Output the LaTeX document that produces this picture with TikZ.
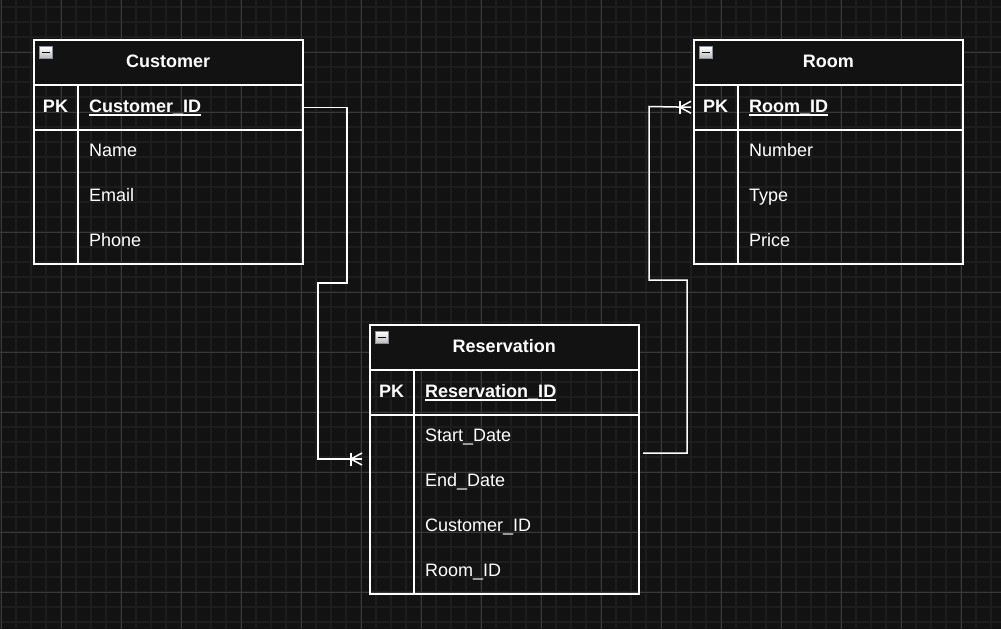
\documentclass[tikz,border=0pt]{standalone}
\usepackage{fontspec}
\setmainfont{Liberation Sans}
\definecolor{bg}{HTML}{121212}
\definecolor{gridminor}{HTML}{1D1D1D}
\definecolor{gridmajor}{HTML}{383838}
\definecolor{iconedge}{HTML}{8A8F99}
\newcommand{\pkul}[1]{\setbox0\hbox{#1}\rlap{\rule[-3.5pt]{\wd0}{1.5pt}}\box0}
\tikzset{
  minorline/.style={gridminor, line width=2pt},
  majorline/.style={gridmajor, line width=1pt},
  tblbox/.style={draw=white, line width=1.5pt, rectangle, inner sep=0pt, minimum width=269pt, anchor=north west},
  headbox/.style={tblbox, fill=bg, minimum height=45pt},
  pkbox/.style={tblbox, minimum height=45pt},
  title/.style={text=white, font=\fontsize{18}{20}\selectfont\bfseries, inner sep=0pt, text height=10pt, text depth=0pt},
  pklabel/.style={text=white, font=\fontsize{18}{20}\selectfont\bfseries, inner sep=0pt, text height=10pt, text depth=0pt},
  field/.style={text=white, font=\fontsize{18}{20}\selectfont, inner sep=0pt, anchor=west, text height=10pt, text depth=0pt},
  keyfield/.style={field, font=\fontsize{18}{20}\selectfont\bfseries},
  iconbox/.style={draw=iconedge, line width=1pt, top color=white, bottom color=gray!55, minimum width=13pt, minimum height=12pt, inner sep=0pt},
  conn/.style={draw=white, line width=1.5pt},
}
\begin{document}
\begin{tikzpicture}[x=1pt,y=-1pt]
\fill[bg] (0,0) rectangle (1001,629);
\useasboundingbox (0,0) rectangle (1001,629);
% grid
\foreach \x in {1,16,...,1000} \draw[minorline] (\x,0) -- (\x,629);
\foreach \y in {7,22,...,628} \draw[minorline] (0,\y) -- (1001,\y);
\foreach \x in {1,61,...,1000} \draw[majorline] (\x,0) -- (\x,629);
\foreach \y in {52,112,...,628} \draw[majorline] (0,\y) -- (1001,\y);

% ---------- Customer ----------
\node[headbox] (custhead) at (33,39) {};
\node[pkbox] (custpk) at (33,84) {};
\node[tblbox, minimum height=134pt] (custbody) at (33,129) {};
\draw[white, line width=1.5pt] ([xshift=45pt]custpk.north west) -- ([xshift=45pt]custbody.south west);
\node[title] (custtitle) at (custhead.center) {Customer};
\node[iconbox] (custicon) at (45.5,52.5) {};
\draw[black, line width=1.5pt] ([xshift=-4pt]custicon.center) -- ([xshift=4pt]custicon.center);
\node[pklabel] (custpkl) at ([xshift=22.5pt]custpk.west) {PK};
\node[keyfield] (custid) at ([xshift=56pt]custpk.west) {\pkul{Customer\_ID}};
\node[field] (custname) at (89,151) {Name};
\node[field] (custemail) at (89,196) {Email};
\node[field] (custphone) at (89,241) {Phone};

% ---------- Room ----------
\node[headbox] (roomhead) at (693,39) {};
\node[pkbox] (roompk) at (693,84) {};
\node[tblbox, minimum height=134pt] (roombody) at (693,129) {};
\draw[white, line width=1.5pt] ([xshift=45pt]roompk.north west) -- ([xshift=45pt]roombody.south west);
\node[title] (roomtitle) at (roomhead.center) {Room};
\node[iconbox] (roomicon) at (705.5,52.5) {};
\draw[black, line width=1.5pt] ([xshift=-4pt]roomicon.center) -- ([xshift=4pt]roomicon.center);
\node[pklabel] (roompkl) at ([xshift=22.5pt]roompk.west) {PK};
\node[keyfield] (roomid) at ([xshift=56pt]roompk.west) {\pkul{Room\_ID}};
\node[field] (roomnum) at (749,151) {Number};
\node[field] (roomtype) at (749,196) {Type};
\node[field] (roomprice) at (749,241) {Price};

% ---------- Reservation ----------
\node[headbox] (reshead) at (369,324) {};
\node[pkbox] (respk) at (369,369) {};
\node[tblbox, minimum height=179pt] (resbody) at (369,414) {};
\draw[white, line width=1.5pt] ([xshift=45pt]respk.north west) -- ([xshift=45pt]resbody.south west);
\node[title] (restitle) at (reshead.center) {Reservation};
\node[iconbox] (resicon) at (381.5,337.5) {};
\draw[black, line width=1.5pt] ([xshift=-4pt]resicon.center) -- ([xshift=4pt]resicon.center);
\node[pklabel] (respkl) at ([xshift=22.5pt]respk.west) {PK};
\node[keyfield] (resid) at ([xshift=56pt]respk.west) {\pkul{Reservation\_ID}};
\node[field] (resstart) at (425,436) {Start\_Date};
\node[field] (resend) at (425,481) {End\_Date};
\node[field] (rescust) at (425,526) {Customer\_ID};
\node[field] (resroom) at (425,571) {Room\_ID};

% ---------- Connectors ----------
\coordinate (resin) at (362,459);
\coordinate (resout) at (643,453);
\coordinate (roomin) at ([xshift=-2pt]roompk.west);

\draw[conn] (custpk.east) -| (347,283) -| (318,459) -- (resin);
\draw[conn] ([xshift=-11pt]resin) ++(0,-6.5) -- ++(0,13);
\draw[conn] ([xshift=-11pt]resin) -- ([yshift=6pt]resin);
\draw[conn] ([xshift=-11pt]resin) -- ([yshift=-6pt]resin);

\draw[conn] (resout) -| (687,280) -| (649,106.5) -- (roomin);
\draw[conn] ([xshift=-11pt]roomin) ++(0,-6.5) -- ++(0,13);
\draw[conn] ([xshift=-11pt]roomin) -- ([yshift=6pt]roomin);
\draw[conn] ([xshift=-11pt]roomin) -- ([yshift=-6pt]roomin);
\end{tikzpicture}
\end{document}
